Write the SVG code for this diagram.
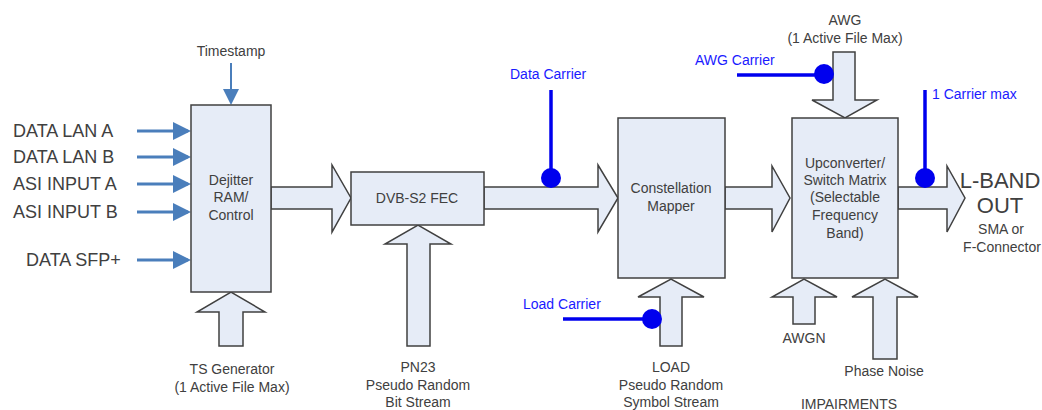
<svg xmlns="http://www.w3.org/2000/svg" width="1042" height="410" viewBox="0 0 1042 410">
<defs>
<style>
.box{fill:#e6ecf7;stroke:#404040;stroke-width:1.5}
.fat{fill:#e6ecf7;stroke:#404040;stroke-width:1.5;stroke-linejoin:miter}
.t{font-family:"Liberation Sans",Arial,sans-serif;font-size:14px;fill:#404040;text-anchor:middle}
.big{font-family:"Liberation Sans",Arial,sans-serif;font-size:18px;fill:#404040}
.huge{font-family:"Liberation Sans",Arial,sans-serif;font-size:22px;fill:#404040;text-anchor:middle}
.bl{font-family:"Liberation Sans",Arial,sans-serif;font-size:14px;fill:#1a1aff}
.in{stroke:#4a7ebb;stroke-width:3;fill:none}
.car{stroke:#0000ee;stroke-width:3.5;fill:none}
.dot{fill:#0000ee}
</style>
<marker id="ah" markerWidth="6" markerHeight="6" refX="5" refY="3" orient="auto" markerUnits="strokeWidth">
<path d="M0,0 L6,3 L0,6 z" fill="#4a7ebb"/>
</marker>
<marker id="ah2" markerWidth="8" markerHeight="8" refX="7" refY="4" orient="auto" markerUnits="strokeWidth">
<path d="M0,0 L8,4 L0,8 z" fill="#4a7ebb"/>
</marker>
</defs>
<rect width="1042" height="410" fill="#ffffff"/>

<g id="connectors">
<!-- input arrows -->
<line class="in" x1="137" y1="131" x2="188" y2="131" marker-end="url(#ah)"/>
<line class="in" x1="137" y1="157" x2="188" y2="157" marker-end="url(#ah)"/>
<line class="in" x1="137" y1="184" x2="188" y2="184" marker-end="url(#ah)"/>
<line class="in" x1="137" y1="212" x2="188" y2="212" marker-end="url(#ah)"/>
<line class="in" x1="137" y1="260" x2="188" y2="260" marker-end="url(#ah)"/>
<line x1="231" y1="63" x2="231" y2="103" stroke="#4a7ebb" stroke-width="2" marker-end="url(#ah2)"/>
<!-- fat horizontal arrows -->
<polygon class="fat" points="271,187 332,187 332,165 351,198 332,232 332,209 271,209"/>
<polygon class="fat" points="484,187 598,187 598,165 618,198 598,232 598,209 484,209"/>
<polygon class="fat" points="725,187 772,187 772,166 790,198 772,232 772,209 725,209"/>
<polygon class="fat" points="898,187 947,187 947,166 965,198 947,232 947,209 898,209"/>
<!-- fat vertical arrows -->
<polygon class="fat" points="219,346 219,312 197,312 231,292 265,312 243,312 243,346"/>
<polygon class="fat" points="407,346 407,244 385,244 418,225 451,244 430,244 430,346"/>
<polygon class="fat" points="660,346 660,297 638,297 671,279 704,297 682,297 682,346"/>
<polygon class="fat" points="793,324 793,297 772,297 804,279 837,297 815,297 815,324"/>
<polygon class="fat" points="873,359 873,297 852,297 885,279 918,297 897,297 897,359"/>
<polygon class="fat" points="833,52 855,52 855,100 877,100 845,118 812,100 833,100"/>
<!-- carriers -->
<line class="car" x1="551" y1="90" x2="551" y2="178"/>
<circle class="dot" cx="551" cy="178" r="10"/>
<line class="car" x1="737" y1="75" x2="824" y2="75"/>
<circle class="dot" cx="824" cy="74" r="10"/>
<line class="car" x1="925" y1="90" x2="925" y2="178"/>
<circle class="dot" cx="925" cy="178" r="10"/>
<line class="car" x1="563" y1="319" x2="652" y2="319"/>
<circle class="dot" cx="652" cy="319" r="10"/>
</g>

<g id="dejitter">
<rect class="box" x="191" y="105" width="80" height="187"/>
<text class="t" x="231" y="185">Dejitter</text>
<text class="t" x="231" y="202">RAM/</text>
<text class="t" x="231" y="220">Control</text>
</g>
<g id="fec">
<rect class="box" x="351" y="172" width="133" height="53"/>
<text class="t" x="417" y="203">DVB-S2 FEC</text>
</g>
<g id="mapper">
<rect class="box" x="618" y="118" width="107" height="160"/>
<text class="t" x="671" y="193">Constellation</text>
<text class="t" x="671" y="211">Mapper</text>
</g>
<g id="upconverter">
<rect class="box" x="792" y="118" width="106" height="160"/>
<text class="t" x="845" y="168">Upconverter/</text>
<text class="t" x="845" y="185">Switch Matrix</text>
<text class="t" x="845" y="202">(Selectable</text>
<text class="t" x="845" y="220">Frequency</text>
<text class="t" x="845" y="238">Band)</text>
</g>

<g id="inputs">
<text class="big" x="13" y="137">DATA LAN A</text>
<text class="big" x="13" y="163">DATA LAN B</text>
<text class="big" x="13" y="190">ASI INPUT A</text>
<text class="big" x="13" y="218">ASI INPUT B</text>
<text class="big" x="26" y="266">DATA SFP+</text>
</g>
<g id="timestamp"><text class="t" x="231" y="56">Timestamp</text></g>
<g id="tsgen">
<text class="t" x="232" y="374">TS Generator</text>
<text class="t" x="232" y="392">(1 Active File Max)</text>
</g>
<g id="pn23">
<text class="t" x="418" y="372">PN23</text>
<text class="t" x="418" y="390">Pseudo Random</text>
<text class="t" x="418" y="407">Bit Stream</text>
</g>
<g id="load">
<text class="t" x="671" y="372">LOAD</text>
<text class="t" x="671" y="390">Pseudo Random</text>
<text class="t" x="671" y="407">Symbol Stream</text>
</g>
<g id="awgn"><text class="t" x="804" y="343">AWGN</text></g>
<g id="phasenoise"><text class="t" x="884" y="376">Phase Noise</text></g>
<g id="impairments"><text class="t" x="849" y="409">IMPAIRMENTS</text></g>
<g id="awg">
<text class="t" x="845" y="25">AWG</text>
<text class="t" x="845" y="43">(1 Active File Max)</text>
</g>
<g id="carrier-labels">
<text class="bl" x="510" y="79">Data Carrier</text>
<text class="bl" x="695" y="65">AWG Carrier</text>
<text class="bl" x="932" y="99">1 Carrier max</text>
<text class="bl" x="523" y="309">Load Carrier</text>
</g>
<g id="lband">
<text class="huge" x="1000" y="188">L-BAND</text>
<text class="huge" x="1000" y="213">OUT</text>
<text class="t" x="1001" y="234">SMA or</text>
<text class="t" x="1002" y="252">F-Connector</text>
</g>
</svg>
